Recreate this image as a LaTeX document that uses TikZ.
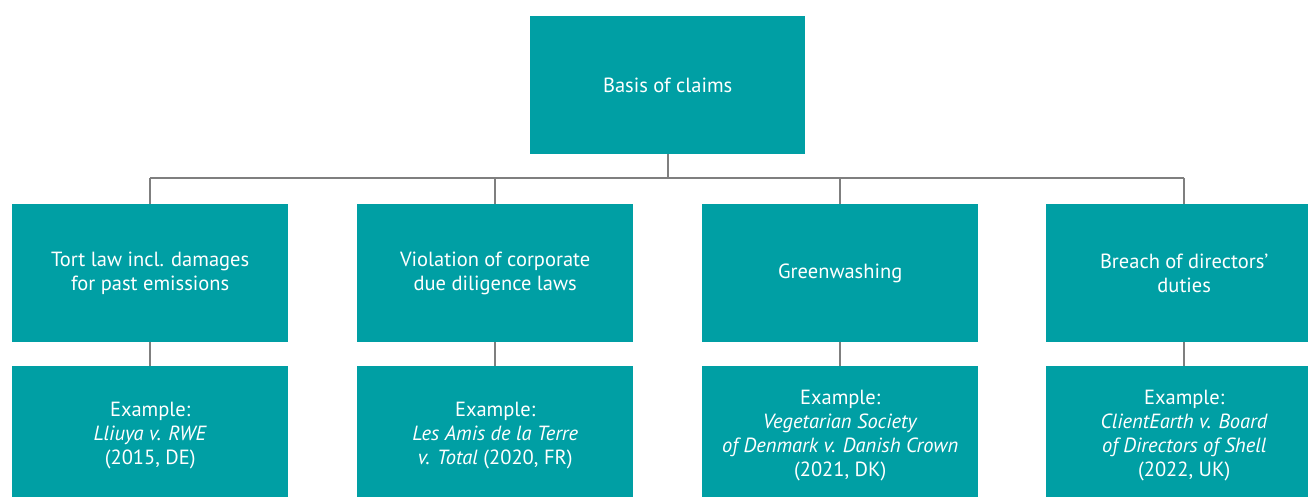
\documentclass[tikz,border=0pt]{standalone}
\usepackage{fontspec}
\setmainfont{PT Sans}
\definecolor{teal1}{HTML}{009FA4}
\definecolor{lgray}{HTML}{7F7F7F}
\begin{document}
\begin{tikzpicture}[x=1pt,y=-1pt,
  box/.style={fill=teal1,draw=none,minimum width=276pt,minimum height=138pt,inner sep=0pt,
    text=white,align=center,font=\fontsize{20.5}{24}\selectfont,anchor=north west},
  link/.style={draw=lgray,line width=2pt}]
\useasboundingbox (0,0) rectangle (1308,497);
\clip (0,0) rectangle (1308,497);
\node[box,minimum width=275pt] (top) at (530,16) {Basis of claims};
\node[box] (a) at (12,204) {Tort law incl. damages\\for past emissions};
\node[box] (b) at (357,204) {Violation of corporate\\due diligence laws};
\node[box] (c) at (702,204) {Greenwashing};
\node[box] (d) at (1046,204) {Breach of directors’\\duties};
\node[box] (ea) at (12,366) {Example:\\\textit{Lliuya v. RWE}\\(2015, DE)};
\node[box] (eb) at (357,366) {Example:\\\textit{Les Amis de la Terre}\\\textit{v. Total} (2020, FR)};
\node[box] (ec) at (702,366) {Example:\\\textit{Vegetarian Society}\\\textit{of Denmark v. Danish Crown}\\(2021, DK)};
\node[box] (ed) at (1046,366) {Example:\\\textit{ClientEarth v. Board}\\\textit{of Directors of Shell}\\(2022, UK)};
\coordinate (bus) at (0,178);
\draw[link] (top.south) -- (top.south |- bus);
\draw[link] (a.north |- bus) -- (d.north |- bus);
\foreach \n in {a,b,c,d} {
  \draw[link] (\n.north |- bus) -- (\n.north);
  \draw[link] (\n.south) -- (e\n.north);
}
\end{tikzpicture}
\end{document}
